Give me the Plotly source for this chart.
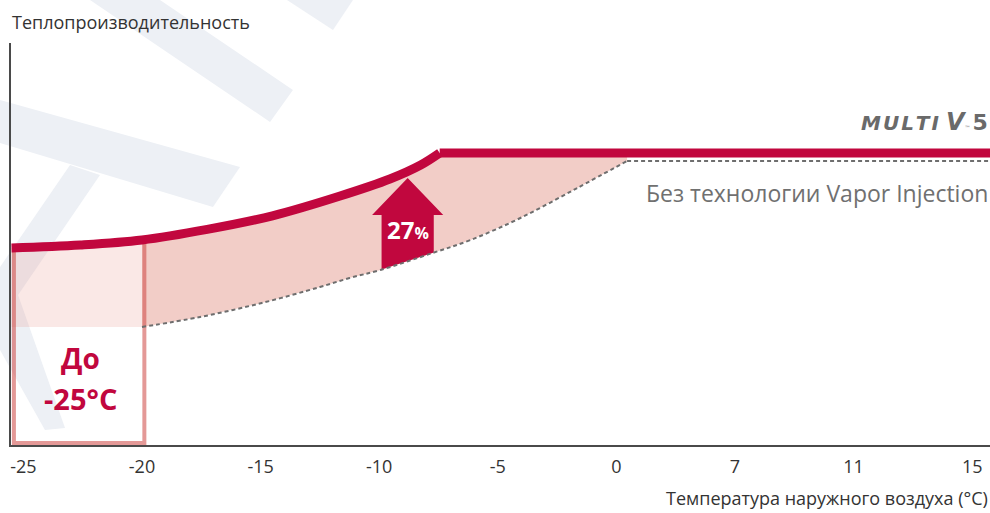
import numpy as np
import plotly.graph_objects as go

# x axis: evenly spaced ticks, one unit per label
TICK_LABELS = ["-25", "-20", "-15", "-10", "-5", "0", "7", "11", "15"]

# Multi V 5 capacity curve (x in tick units, y in % of scale)
RED_X = [-0.10, 0.48, 1.00, 1.55, 2.10, 2.67, 3.09, 3.35, 3.51, 8.15]
RED_Y = [49.25, 50.0, 51.25, 53.9, 57.3, 62.25, 66.5, 70.0, 73.0, 73.0]

# without Vapor Injection
BASE_X = [1.00, 1.49, 2.01, 2.50, 2.75, 3.01, 3.45, 3.77, 4.19, 4.67, 5.09, 8.15]
BASE_Y = [29.5, 32.0, 35.5, 39.5, 41.75, 43.75, 48.0, 51.25, 56.75, 64.25, 71.0, 71.0]

BOX_X = [-0.08, 1.02]      # zone down to -25 °C
ARROW_X = 3.24
GAIN = "27"

RED = "#c1073e"
PINK = "#f2cdc7"
GREY = "#6e6e6e"
WM = "#edf0f5"

# ── derived polygons ──────────────────────────────────────────────────────────
red_x, red_y = np.array(RED_X), np.array(RED_Y)
base_x, base_y = np.array(BASE_X), np.array(BASE_Y)
split, corner = base_x[0], base_x[-2]

m = (red_x >= split) & (red_x < corner)
up_x = np.append(red_x[m], corner)
up_y = np.append(red_y[m], np.interp(corner, red_x, red_y))
lo = base_x <= corner
band_x = np.concatenate([up_x, base_x[lo][::-1]])
band_y = np.concatenate([up_y, base_y[lo][::-1]])

b = red_x <= split
box_fill_x = np.concatenate([red_x[b], [split, red_x[0]]])
box_fill_y = np.concatenate([red_y[b], [base_y[0], base_y[0]]])

hw, sw, tip_y, neck_y = 0.30, 0.22, 66.75, 57.5
arrow_x = [ARROW_X, ARROW_X + hw, ARROW_X + sw, ARROW_X + sw,
           ARROW_X - sw, ARROW_X - sw, ARROW_X - hw, ARROW_X]
arrow_y = [tip_y, neck_y, neck_y, np.interp(ARROW_X + sw, base_x, base_y),
           np.interp(ARROW_X - sw, base_x, base_y), neck_y, neck_y, tip_y]

fig = go.Figure()
fig.add_trace(go.Scatter(x=box_fill_x, y=box_fill_y, fill="toself", mode="none",
                         fillcolor="rgba(232,150,140,0.22)", hoverinfo="skip"))
fig.add_trace(go.Scatter(x=band_x, y=band_y, fill="toself", mode="none",
                         fillcolor=PINK, hoverinfo="skip"))
fig.add_trace(go.Scatter(x=[BOX_X[1], BOX_X[1], BOX_X[0], BOX_X[0]],
                         y=[red_y[2], 0.5, 0.5, red_y[0]], mode="lines",
                         line=dict(color="rgba(205,70,65,0.55)", width=4), hoverinfo="skip"))
fig.add_trace(go.Scatter(x=arrow_x, y=arrow_y, fill="toself", mode="none",
                         fillcolor=RED, hoverinfo="skip"))

# curves: smooth part + flat part (sharp corner between them)
for xs, ys, style in [(BASE_X, BASE_Y, dict(color=GREY, width=2, dash="4px,3px")),
                      (RED_X, RED_Y, dict(color=RED, width=9))]:
    k = len(xs) - 2
    fig.add_trace(go.Scatter(x=xs[:k + 1], y=ys[:k + 1], mode="lines",
                             line=dict(shape="spline", smoothing=1.0, **style)))
    fig.add_trace(go.Scatter(x=xs[k:], y=ys[k:], mode="lines", line=style))

# background watermark (pixel outlines -> paper coords)
L, T, W, H = 11, 43, 979, 402
def to_path(pts):
    p = [((x - L) / W, (T + H - y) / H) for x, y in pts]
    return "M " + " L ".join(f"{a:.4f},{c:.4f}" for a, c in p) + " Z"

for pts in [
    [(90, 0), (160, 0), (293, 90), (270, 122)],
    [(287, 0), (353, 0), (333, 30)],
    [(0, 100), (240, 167), (213, 207), (0, 143)],
    [(70, 165), (100, 175), (18, 295), (65, 428), (45, 430), (0, 350), (0, 267)],
]:
    fig.add_shape(type="path", path=to_path(pts), xref="paper", yref="paper",
                  fillcolor=WM, line_width=0, layer="below")

hs = "\u200a"
ann = [
    dict(x=ARROW_X, y=54, xref="x", yref="y",
         text=f"<b>{GAIN}<span style='font-size:16px'>%</span></b>",
         font=dict(size=24, color="white")),
    dict(x=0.485, y=21.75, xref="x", yref="y", text="<b>До</b>",
         font=dict(size=28, color=RED)),
    dict(x=0.485, y=11.75, xref="x", yref="y", text="<b>-25°C</b>",
         font=dict(size=29, color=RED)),
    dict(x=1.0, y=63, xref="paper", yref="y", xanchor="right",
         text="Без технологии Vapor Injection", font=dict(size=23, color="#707070")),
    dict(x=1.0, y=80.75, xref="paper", yref="y", xanchor="right",
         text=f"<b><i>{hs.join('MULTI')} </i></b><b><i><span style='font-size:24px'>V</span></i></b>"
              "<span style='font-size:6px'>™ </span><b><span style='font-size:22px'>5</span></b>",
         font=dict(size=20, color="#6a6a6a", family="DejaVu Sans")),
    dict(x=-0.001, y=1.052, xref="paper", yref="paper", xanchor="left",
         text="Теплопроизводительность", font=dict(size=18, color="#333333")),
    dict(x=1.0, y=-0.132, xref="paper", yref="paper", xanchor="right",
         text="Температура наружного воздуха (°C)", font=dict(size=18, color="#333333")),
]
for a in ann:
    a.setdefault("showarrow", False)
    a.setdefault("yanchor", "middle")
    fig.add_annotation(**a)

fig.update_layout(
    width=990, height=513,
    margin=dict(l=L, r=0, t=T, b=513 - T - H),
    paper_bgcolor="white", plot_bgcolor="rgba(0,0,0,0)",
    showlegend=False,
    font=dict(family="Open Sans, sans-serif", size=18, color="#333333"),
    xaxis=dict(range=[-0.1045, 8.15], tickvals=list(range(len(TICK_LABELS))),
               ticktext=TICK_LABELS, showgrid=False, zeroline=False, showline=True,
               linecolor="#4a4a4a", linewidth=2, ticks="", ticklabelstandoff=4),
    yaxis=dict(range=[0, 100.5], showgrid=False, zeroline=False, showline=True,
               linecolor="#4a4a4a", linewidth=1.5, showticklabels=False, ticks=""),
)

fig.write_html("out.html", config={"displayModeBar": False},
               post_script="document.body.style.margin='0px';")
